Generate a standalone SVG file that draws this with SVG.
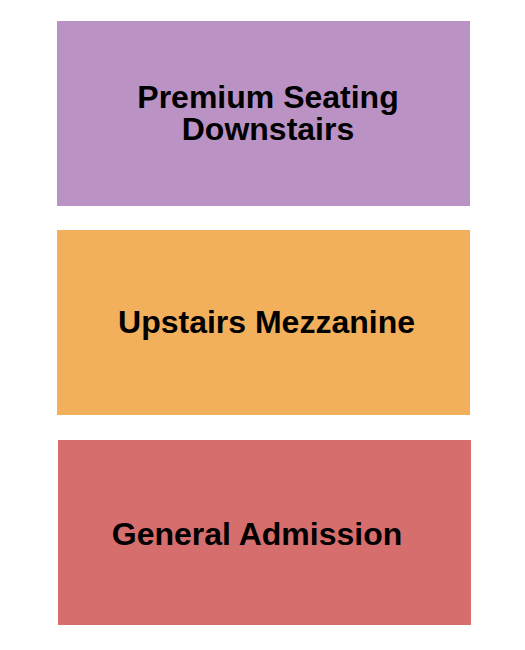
<svg xmlns="http://www.w3.org/2000/svg" width="525" height="650" viewBox="0 0 525 650">
<style>
.lbl{font-family:"Liberation Sans",Arial,sans-serif;font-weight:bold;font-size:32px;fill:#000;text-anchor:middle}
</style>
<rect width="525" height="650" fill="#fff"/>
<g id="premium">
<rect x="57" y="21" width="413" height="185" fill="#BA92C4"/>
<text class="lbl" x="268" y="108">Premium Seating</text>
<text class="lbl" x="268" y="140">Downstairs</text>
</g>
<g id="mezzanine">
<rect x="57" y="230" width="413" height="185" fill="#F2AF5C"/>
<text class="lbl" x="266.5" y="333">Upstairs Mezzanine</text>
</g>
<g id="general">
<rect x="58" y="440" width="413" height="185" fill="#D66E6E"/>
<text class="lbl" x="257" y="545">General Admission</text>
</g>
<g id="connectors"/>
</svg>
